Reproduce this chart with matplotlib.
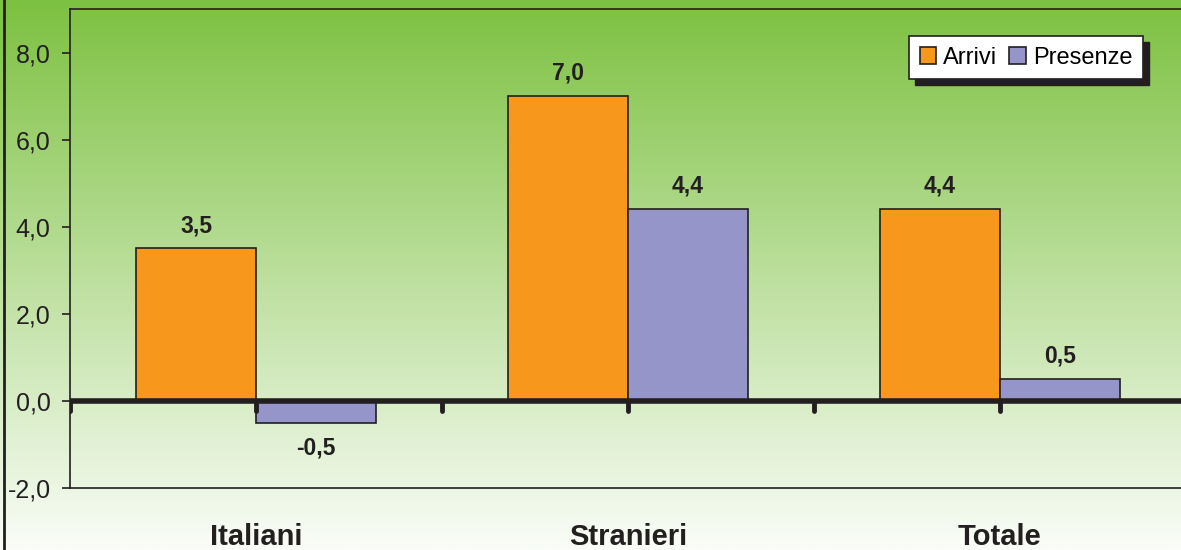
import matplotlib
matplotlib.use("Agg")
import matplotlib.pyplot as plt
from matplotlib.patches import Patch, Rectangle
from matplotlib.lines import Line2D
import numpy as np

plt.rcParams['font.family'] = ['Liberation Sans', 'DejaVu Sans']

# data
categorie = ['Italiani', 'Stranieri', 'Totale']
arrivi = [3.5, 7.0, 4.4]
presenze = [-0.5, 4.4, 0.5]
serie = ['Arrivi', 'Presenze']
yticks = [-2, 0, 2, 4, 6, 8]

c_arr = '#F7981D'
c_pre = '#9595C9'
ink = '#231F20'

fig = plt.figure(figsize=(11.81, 5.5), dpi=100)

# background gradient over the whole figure
bg = fig.add_axes([0, 0, 1, 1], zorder=-10)
top = np.array([125, 193, 65]) / 255
bot = np.array([250, 253, 248]) / 255
t = np.linspace(0, 1, 256)[:, None]
grad = (top[None, :] * (1 - t) + bot[None, :] * t)[:, None, :]
bg.imshow(grad, aspect='auto', extent=[0, 1, 0, 1])
bg.set_axis_off()
fig.add_artist(Line2D([4 / 1181, 4 / 1181], [0, 1], color=ink, lw=2))

ax = fig.add_axes([70 / 1181, 62 / 550, 1116 / 1181, 479 / 550])
ax.set_facecolor('none')

x = np.arange(len(categorie))
w = 0.3226
b1 = ax.bar(x - w / 2, arrivi, w, color=c_arr, edgecolor=ink, lw=1.2, zorder=3)
b2 = ax.bar(x + w / 2, presenze, w, color=c_pre, edgecolor=ink, lw=1.2, zorder=3)

for bars, vals in ((b1, arrivi), (b2, presenze)):
    for r, v in zip(bars, vals):
        off = 16.5 if v >= 0 else -18
        ax.annotate(f'{v:.1f}'.replace('.', ','),
                    (r.get_x() + r.get_width() / 2, v),
                    xytext=(0, off), textcoords='offset points',
                    ha='center', va='center', fontsize=16.5,
                    fontweight='bold', color=ink)

# zero line with its ticks
ax.axhline(0, color=ink, lw=4, zorder=4)
tk = np.arange(-0.5, len(categorie), 0.5)
ax.vlines(tk, 0, -0.24, color=ink, lw=3.5, capstyle='round', zorder=4)

ax.set_xlim(-0.5, 2.5)
ax.set_ylim(-2, 9)
ax.set_yticks(yticks)
ax.set_yticklabels([f'{v:.1f}'.replace('.', ',') for v in yticks])
ax.tick_params(axis='y', length=6, width=1.2, pad=8, labelsize=18,
               color=ink, labelcolor=ink)
ax.set_xticks(x)
ax.set_xticklabels(categorie, fontsize=21, fontweight='bold', color=ink)
ax.tick_params(axis='x', length=0, pad=25)
for s in ax.spines.values():
    s.set_color(ink)
    s.set_linewidth(1.2)

handles = [Patch(facecolor=c_arr, edgecolor=ink, lw=1.2),
           Patch(facecolor=c_pre, edgecolor=ink, lw=1.2)]
leg = fig.legend(handles, serie, loc='upper right',
                 bbox_to_anchor=(1143 / 1181, 1 - 36 / 550),
                 bbox_transform=fig.transFigure, ncol=2, fontsize=17,
                 frameon=True, fancybox=False, handlelength=0.7,
                 handleheight=0.7, handletextpad=0.3, columnspacing=0.5,
                 borderpad=0.45, borderaxespad=0)
leg.get_frame().set_edgecolor(ink)
leg.get_frame().set_linewidth(1.2)
leg.get_frame().set_facecolor('white')
leg.get_frame().set_alpha(1)
leg.set_zorder(6)

fig.canvas.draw()
bb = leg.get_window_extent().transformed(fig.transFigure.inverted())
fig.add_artist(Rectangle((bb.x0 + 6 / 1181, bb.y0 - 6 / 550), bb.width, bb.height,
                         transform=fig.transFigure, color=ink, zorder=5))

fig.savefig('out.png', dpi=100)
